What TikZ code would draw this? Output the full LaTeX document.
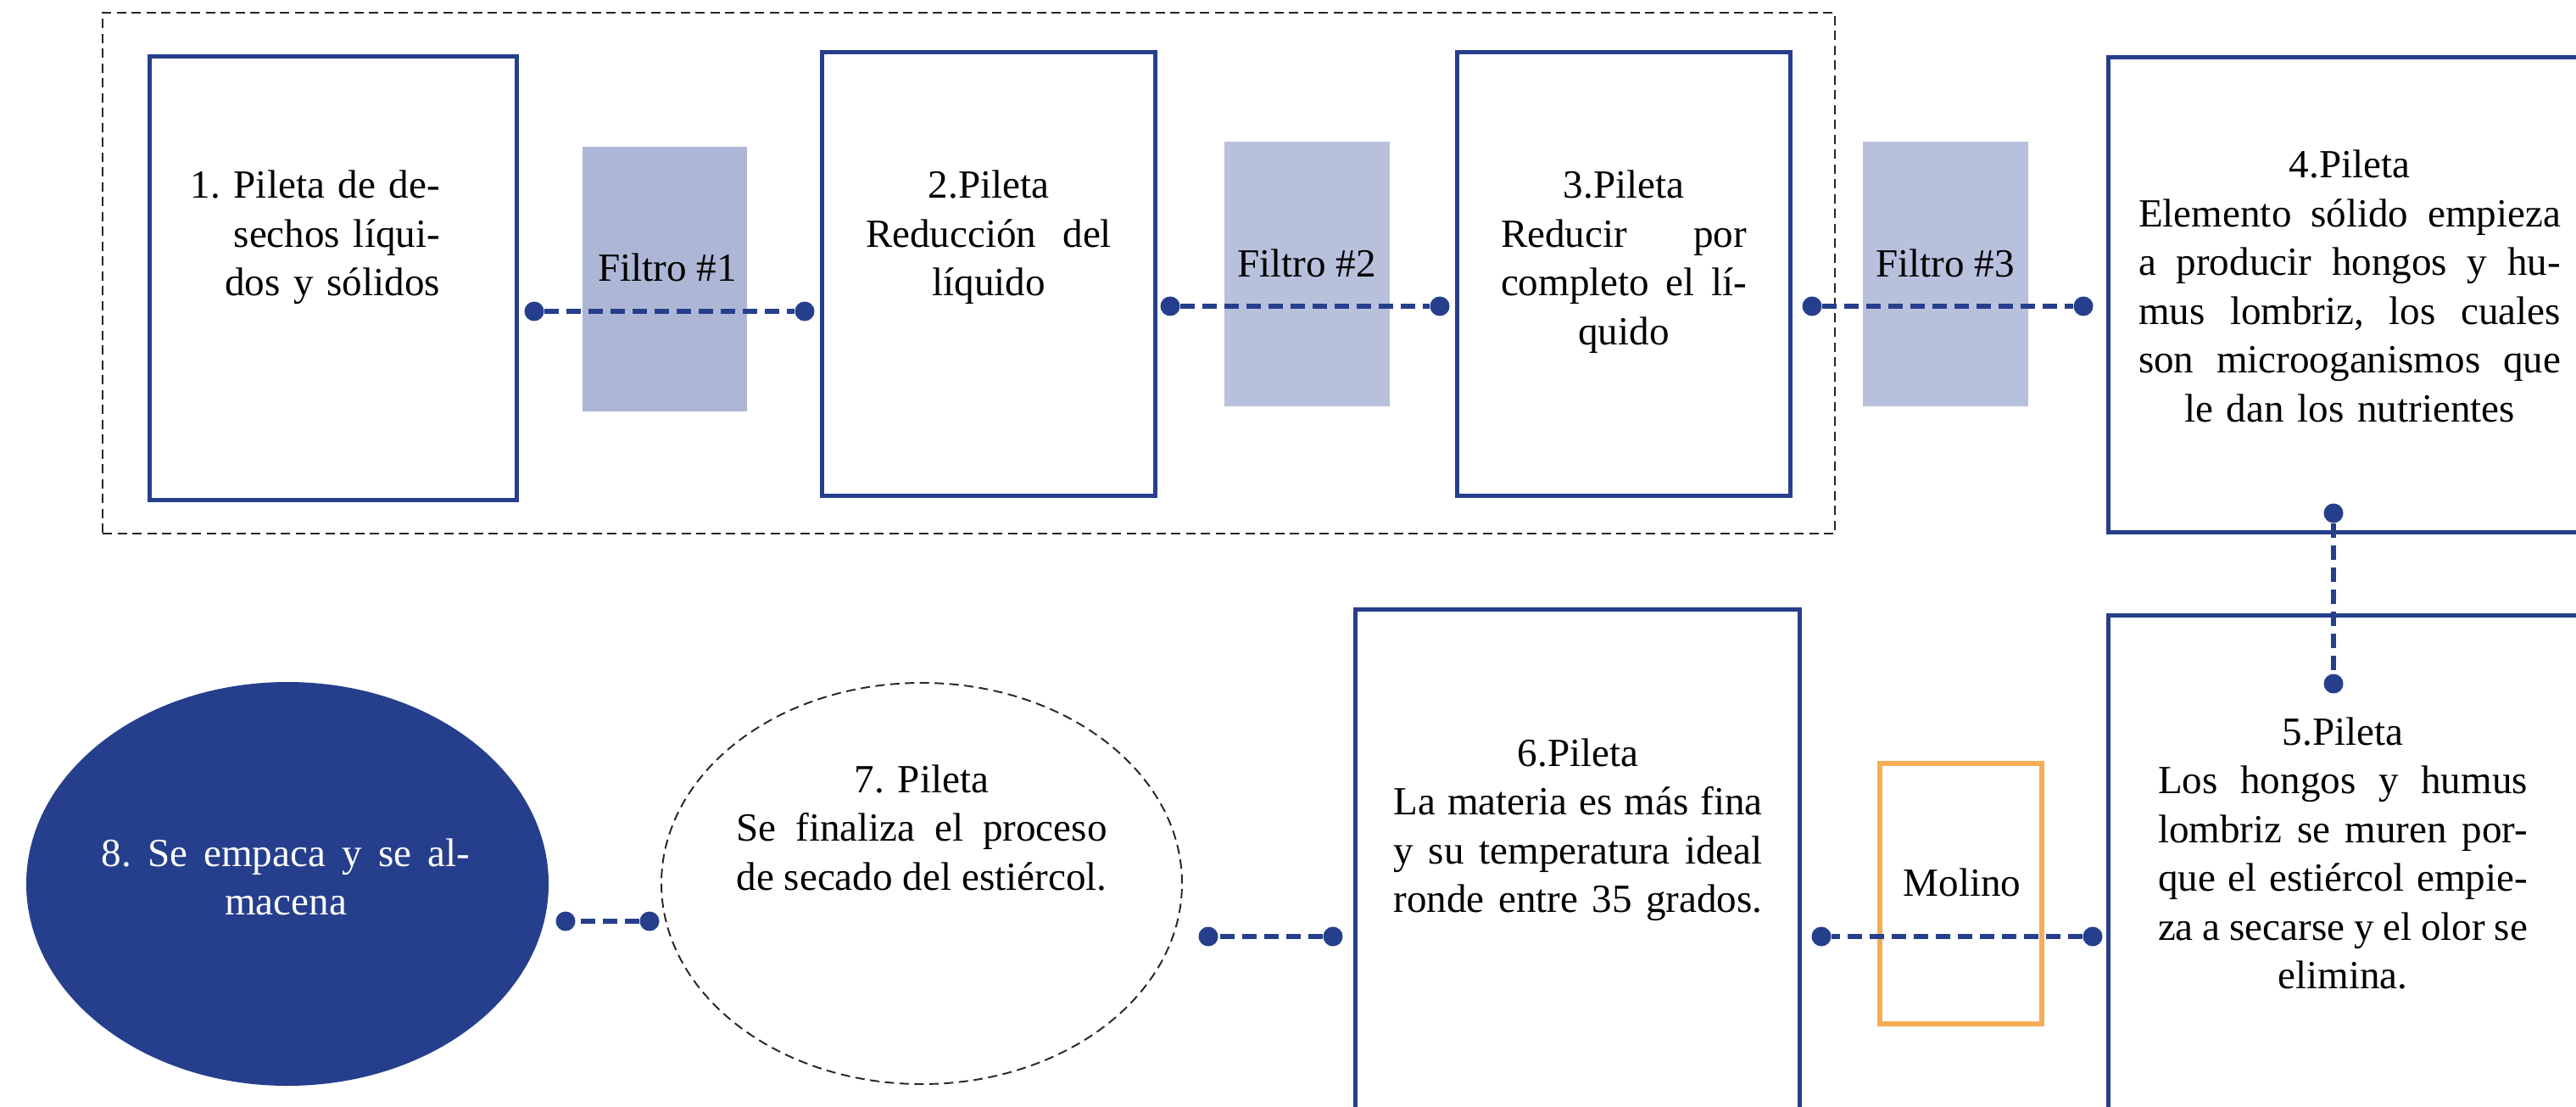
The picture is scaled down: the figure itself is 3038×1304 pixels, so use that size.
\documentclass[tikz,border=0pt]{standalone}
\usepackage{fontspec}
\setmainfont{Liberation Serif}
\usetikzlibrary{shapes.geometric}
\definecolor{navy}{HTML}{263F8C}
\definecolor{filtA}{HTML}{ADB7D5}
\definecolor{filtB}{HTML}{B7C1DC}
\definecolor{orng}{HTML}{F6AD55}
\newcommand{\jl}[1]{\makebox[\linewidth][s]{\spaceskip=0.2em plus 1fil\relax #1}}
\tikzset{
  pool/.style={draw=navy, line width=0.5mm, fill=white, inner sep=0pt},
  filt/.style={inner sep=0pt, draw=none},
  mill/.style={draw=orng, line width=0.55mm, inner sep=0pt},
  txt/.style={anchor=base, inner sep=0pt, align=center, font=\fontsize{13.4}{16.36}\selectfont\frenchspacing},
  dot/.style={circle, fill=navy, inner sep=0pt, minimum size=2.3mm},
  conn/.style={draw=navy, line width=1.6pt, dash pattern=on 1.7mm off 0.9mm},
  grp/.style={draw=black!85, line width=0.55pt, dash pattern=on 1.1mm off 0.65mm}
}
\begin{document}
\begin{tikzpicture}[x=0.1mm,y=-0.1mm]
\useasboundingbox (0,0) rectangle (3038,1304);
\clip (0,0) rectangle (3038,1304);
\fill[white] (0,0) rectangle (3038,1304);
% group frame
\node[grp, minimum width=204.3mm, minimum height=61.4mm, inner sep=0pt] (grp) at (1142.5,322) {};
% top row
\node[pool, minimum width=43.3mm, minimum height=52.2mm] (b1) at (392.5,328) {};
\node[filt, fill=filtA, minimum width=19.4mm, minimum height=31.2mm] (f1) at (784,329) {};
\node[pool, minimum width=39.3mm, minimum height=52.2mm] (b2) at (1165.5,323) {};
\node[filt, fill=filtB, minimum width=19.5mm, minimum height=31.2mm] (f2) at (1541.5,323) {};
\node[pool, minimum width=39.3mm, minimum height=52.2mm] (b3) at (1914.5,323) {};
\node[filt, fill=filtB, minimum width=19.5mm, minimum height=31.2mm] (f3) at (2294.5,323) {};
\node[pool, minimum width=58.4mm, minimum height=55.9mm] (b4) at (2778,347.5) {};
% bottom row
\node[pool, minimum width=58.4mm, minimum height=60.5mm] (b5) at (2778,1027.5) {};
\node[mill, minimum width=19.1mm, minimum height=30.7mm] (mol) at (2312.5,1053.5) {};
\node[pool, minimum width=52.4mm, minimum height=61.2mm] (b6) at (1860,1024) {};
\node[ellipse, draw=black!85, line width=0.55pt, dash pattern=on 1.1mm off 0.65mm, minimum width=61.4mm, minimum height=47.3mm, inner sep=0pt] (e7) at (1087,1041.5) {};
\node[ellipse, fill=navy, minimum width=61.6mm, minimum height=47.6mm, inner sep=0pt] (e8) at (339,1042) {};
% texts
\node[txt, align=right, text width=33mm] (t1) at (354,234) {1. Pileta de de-\\sechos líqui-\\dos y sólidos};
\node[txt] (tf1) at (787,332) {Filtro \#1};
\node[txt, text width=29mm] (t2) at (1166,234) {2.Pileta\\\jl{Reducción del}\\líquido};
\node[txt] (tf2) at (1541,326) {Filtro \#2};
\node[txt, text width=29mm] (t3) at (1915,234) {3.Pileta\\\jl{Reducir por}\\\jl{completo el lí-}\\quido};
\node[txt] (tf3) at (2294,327) {Filtro \#3};
\node[txt, text width=49.8mm] (t4) at (2771,210) {4.Pileta\\\jl{Elemento sólido empieza}\\\jl{a producir hongos y hu-}\\\jl{mus lombriz, los cuales}\\\jl{son microoganismos que}\\le dan los nutrientes};
\node[txt, text width=43.6mm] (t5) at (2763,878) {5.Pileta\\\jl{Los hongos y humus}\\\jl{lombriz se muren por-}\\\jl{que el estiércol empie-}\\\jl{za a secarse y el olor se}\\elimina.};
\node[txt] (tmol) at (2314,1056) {Molino};
\node[txt, text width=43.5mm] (t6) at (1861,903) {6.Pileta\\\jl{La materia es más fina}\\\jl{y su temperatura ideal}\\\jl{ronde entre 35 grados.}};
\node[txt, text width=43.7mm] (t7) at (1087,934) {7. Pileta\\\jl{Se finaliza el proceso}\\\jl{de secado del estiércol.}};
\node[txt, text width=43.5mm, text=white] (t8) at (337,1021) {\jl{8. Se empaca y se al-}\\macena};
% connector dots
\node[dot] (p1a) at (630,367) {};
\node[dot] (p1b) at (949,367) {};
\node[dot] (p2a) at (1380,361) {};
\node[dot] (p2b) at (1698,361) {};
\node[dot] (p3a) at (2137,361) {};
\node[dot] (p3b) at (2457,361) {};
\node[dot] (p4a) at (2752,605) {};
\node[dot] (p4b) at (2752,806) {};
\node[dot] (p5a) at (2468,1104) {};
\node[dot] (p5b) at (2148,1104) {};
\node[dot] (p6a) at (1572,1104) {};
\node[dot] (p6b) at (1425,1104) {};
\node[dot] (p7a) at (766,1086) {};
\node[dot] (p7b) at (667,1086) {};
% connectors
\draw[conn] (p1a) -- (p1b);
\draw[conn] (p2a) -- (p2b);
\draw[conn] (p3a) -- (p3b);
\draw[conn] (p4a) -- (p4b);
\draw[conn] (p5a) -- (p5b);
\draw[conn] (p6a) -- (p6b);
\draw[conn] (p7a) -- (p7b);
\end{tikzpicture}
\end{document}
